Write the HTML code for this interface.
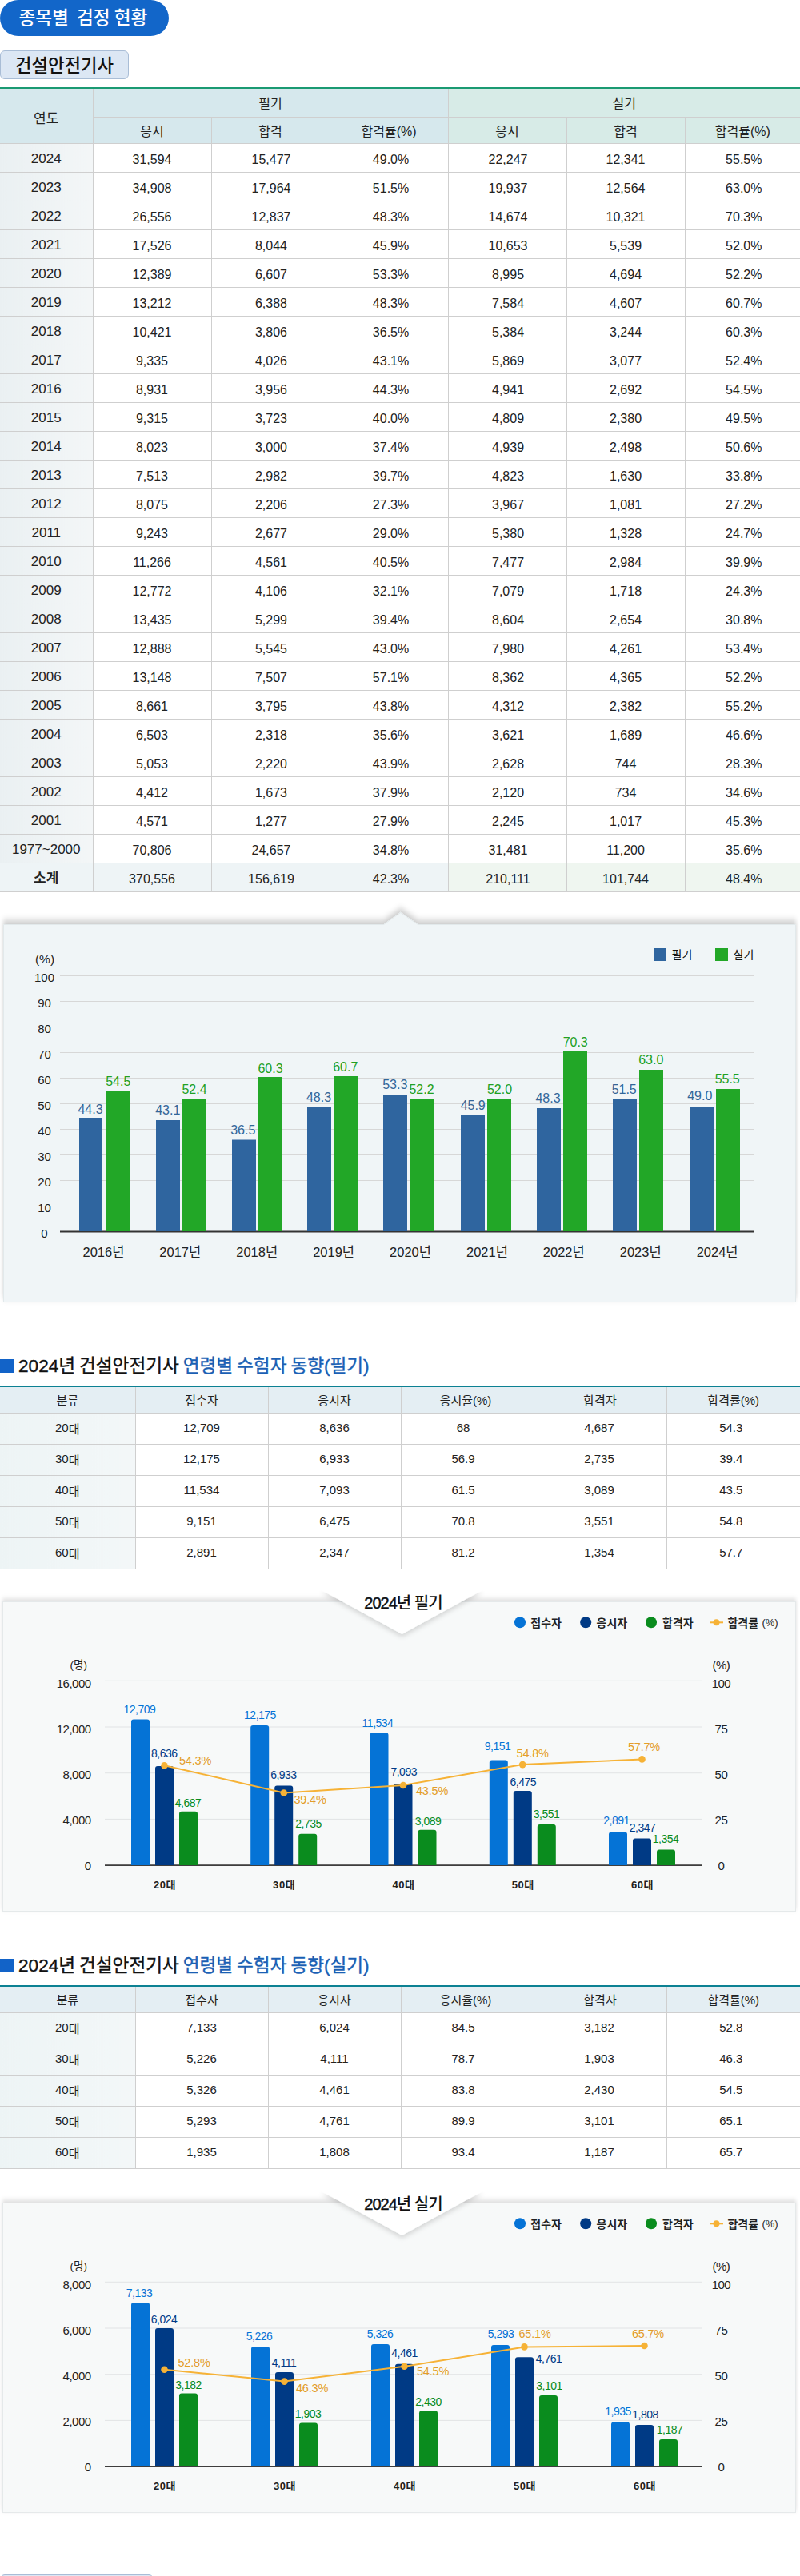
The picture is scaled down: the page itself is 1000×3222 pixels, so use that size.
<!DOCTYPE html><html lang="ko"><head><meta charset="utf-8"><title>종목별 검정 현황</title><style>

*{box-sizing:border-box;margin:0;padding:0}
html,body{width:1000px;background:#fff}
body{position:relative;height:3222px;overflow:hidden;font-family:"Liberation Sans","Noto Sans CJK KR",sans-serif;color:#111;font-size:16px}
.abs{position:absolute}
.pill{position:absolute;left:0;top:0;width:211px;height:45px;border-radius:23px;background:#1266c9;color:#fff;font-size:22.6px;font-weight:500;word-spacing:-1.2px;line-height:45px;padding-left:23.5px;white-space:pre}
.tag{position:absolute;left:0;top:63px;width:161px;height:36px;border:1px solid #a9bdd6;border-radius:6px;background:#dce7f4;font-size:22.3px;font-weight:500;line-height:37px;text-align:center;color:#111}
table{border-collapse:collapse;table-layout:fixed;position:absolute;left:0;width:1000px}
td,th{font-weight:400;text-align:center;vertical-align:middle;border:1px solid #cfcfcf;font-size:16px;color:#222;padding:0;line-height:20px}
#t1{top:109px;border-top:2px solid #1a9a72}
#t1 th{background:#d6e8ed;height:36px;padding-top:3px}
#t1 th[rowspan]{padding-top:9px;font-size:17px}
#t1 tr.h2 th{height:33px;padding-top:4px}
#t1 th.g{background:#d7ebe7}
#t1 td{height:36px;padding-top:5px}
#t1 td:first-child{background:linear-gradient(90deg,#eaf0f2,#f3f6f7);font-size:17px;padding-top:3px}
#t1 td:nth-child(4){padding-left:5px}
#t1 td:nth-child(7){padding-left:3px}
#t1 td:nth-child(3),#t1 td:nth-child(5){padding-left:2px}
#t1 tr.sum td{background:#eef4f6}
#t1 tr.sum td.g{background:#eff6f0}
#t1 tr.sum td:first-child{font-weight:700}
#t1 tr>*:first-child{border-left:0}
#t1 tr>*:last-child{border-right:0}
.t2{border-top:2px solid #0c8193}
.t2 th{background:#e4eef3;height:33px;font-size:15px;padding-top:2px}
.t2 td{height:39px;padding-bottom:1px;font-size:15px}
.t2 td:nth-child(4){padding-right:10px}
.t2 th:nth-child(4){padding-right:4px}
.t2 td:nth-child(6){padding-right:6px}
.t2 td:nth-child(5){padding-right:2px}
.t2 td i{font-style:normal;position:relative;top:1.5px}
.t2 td:first-child{background:linear-gradient(90deg,#edf4f5,#f3f7f8)}
.t2 tr>*:first-child{border-left:0}
.t2 tr>*:last-child{border-right:0}
.h3{position:absolute;left:0;height:30px;font-size:22.6px;font-weight:400;-webkit-text-stroke:0.4px;word-spacing:-1.3px;line-height:30px;padding-left:23px;color:#111;white-space:nowrap}
.h3:before{content:"";position:absolute;left:0;top:6px;width:17px;height:17px;background:#1263c8}
.h3 b{font-weight:400;color:#1a5fb4}
svg{position:absolute;left:0;overflow:visible}
svg text{font-family:"Liberation Sans","Noto Sans CJK KR",sans-serif}

</style></head><body>
<div class="pill">종목별  검정 현황</div>
<div class="tag">건설안전기사</div>
<table id="t1"><colgroup><col style="width:116px"><col style="width:148px"><col style="width:148px"><col style="width:148px"><col style="width:148px"><col style="width:148px"><col style="width:144px"></colgroup>
<tr><th rowspan="2">연도</th><th colspan="3">필기</th><th colspan="3" class="g">실기</th></tr>
<tr class="h2"><th>응시</th><th>합격</th><th>합격률(%)</th><th class="g">응시</th><th class="g">합격</th><th class="g">합격률(%)</th></tr>
<tr><td>2024</td><td>31,594</td><td>15,477</td><td>49.0%</td><td class="g">22,247</td><td class="g">12,341</td><td class="g">55.5%</td></tr>
<tr><td>2023</td><td>34,908</td><td>17,964</td><td>51.5%</td><td class="g">19,937</td><td class="g">12,564</td><td class="g">63.0%</td></tr>
<tr><td>2022</td><td>26,556</td><td>12,837</td><td>48.3%</td><td class="g">14,674</td><td class="g">10,321</td><td class="g">70.3%</td></tr>
<tr><td>2021</td><td>17,526</td><td>8,044</td><td>45.9%</td><td class="g">10,653</td><td class="g">5,539</td><td class="g">52.0%</td></tr>
<tr><td>2020</td><td>12,389</td><td>6,607</td><td>53.3%</td><td class="g">8,995</td><td class="g">4,694</td><td class="g">52.2%</td></tr>
<tr><td>2019</td><td>13,212</td><td>6,388</td><td>48.3%</td><td class="g">7,584</td><td class="g">4,607</td><td class="g">60.7%</td></tr>
<tr><td>2018</td><td>10,421</td><td>3,806</td><td>36.5%</td><td class="g">5,384</td><td class="g">3,244</td><td class="g">60.3%</td></tr>
<tr><td>2017</td><td>9,335</td><td>4,026</td><td>43.1%</td><td class="g">5,869</td><td class="g">3,077</td><td class="g">52.4%</td></tr>
<tr><td>2016</td><td>8,931</td><td>3,956</td><td>44.3%</td><td class="g">4,941</td><td class="g">2,692</td><td class="g">54.5%</td></tr>
<tr><td>2015</td><td>9,315</td><td>3,723</td><td>40.0%</td><td class="g">4,809</td><td class="g">2,380</td><td class="g">49.5%</td></tr>
<tr><td>2014</td><td>8,023</td><td>3,000</td><td>37.4%</td><td class="g">4,939</td><td class="g">2,498</td><td class="g">50.6%</td></tr>
<tr><td>2013</td><td>7,513</td><td>2,982</td><td>39.7%</td><td class="g">4,823</td><td class="g">1,630</td><td class="g">33.8%</td></tr>
<tr><td>2012</td><td>8,075</td><td>2,206</td><td>27.3%</td><td class="g">3,967</td><td class="g">1,081</td><td class="g">27.2%</td></tr>
<tr><td>2011</td><td>9,243</td><td>2,677</td><td>29.0%</td><td class="g">5,380</td><td class="g">1,328</td><td class="g">24.7%</td></tr>
<tr><td>2010</td><td>11,266</td><td>4,561</td><td>40.5%</td><td class="g">7,477</td><td class="g">2,984</td><td class="g">39.9%</td></tr>
<tr><td>2009</td><td>12,772</td><td>4,106</td><td>32.1%</td><td class="g">7,079</td><td class="g">1,718</td><td class="g">24.3%</td></tr>
<tr><td>2008</td><td>13,435</td><td>5,299</td><td>39.4%</td><td class="g">8,604</td><td class="g">2,654</td><td class="g">30.8%</td></tr>
<tr><td>2007</td><td>12,888</td><td>5,545</td><td>43.0%</td><td class="g">7,980</td><td class="g">4,261</td><td class="g">53.4%</td></tr>
<tr><td>2006</td><td>13,148</td><td>7,507</td><td>57.1%</td><td class="g">8,362</td><td class="g">4,365</td><td class="g">52.2%</td></tr>
<tr><td>2005</td><td>8,661</td><td>3,795</td><td>43.8%</td><td class="g">4,312</td><td class="g">2,382</td><td class="g">55.2%</td></tr>
<tr><td>2004</td><td>6,503</td><td>2,318</td><td>35.6%</td><td class="g">3,621</td><td class="g">1,689</td><td class="g">46.6%</td></tr>
<tr><td>2003</td><td>5,053</td><td>2,220</td><td>43.9%</td><td class="g">2,628</td><td class="g">744</td><td class="g">28.3%</td></tr>
<tr><td>2002</td><td>4,412</td><td>1,673</td><td>37.9%</td><td class="g">2,120</td><td class="g">734</td><td class="g">34.6%</td></tr>
<tr><td>2001</td><td>4,571</td><td>1,277</td><td>27.9%</td><td class="g">2,245</td><td class="g">1,017</td><td class="g">45.3%</td></tr>
<tr><td>1977~2000</td><td>70,806</td><td>24,657</td><td>34.8%</td><td class="g">31,481</td><td class="g">11,200</td><td class="g">35.6%</td></tr>
<tr class="sum"><td>소계</td><td>370,556</td><td>156,619</td><td>42.3%</td><td class="g">210,111</td><td class="g">101,744</td><td class="g">48.4%</td></tr>
</table>
<svg style="top:1130px" width="1000" height="510" viewBox="0 1130 1000 510">
<defs><filter id="sh1" x="-5%" y="-10%" width="110%" height="120%"><feDropShadow dx="0" dy="-5" stdDeviation="2.5 4" flood-color="#000" flood-opacity="0.2"/></filter></defs>
<path d="M4.5,1156.5 L479.5,1156.5 L500.8,1141.5 L522.5,1156.5 L994.5,1156.5 L994.5,1628.5 L4.5,1628.5 Z" fill="#f0f5f7" stroke="#e2e9eb" stroke-width="1" filter="url(#sh1)"/>
<rect x="75" y="1220" width="868" height="1" fill="#d7d7d7"/>
<rect x="75" y="1252" width="868" height="1" fill="#d7d7d7"/>
<rect x="75" y="1284" width="868" height="1" fill="#d7d7d7"/>
<rect x="75" y="1316" width="868" height="1" fill="#d7d7d7"/>
<rect x="75" y="1348" width="868" height="1" fill="#d7d7d7"/>
<rect x="75" y="1380" width="868" height="1" fill="#d7d7d7"/>
<rect x="75" y="1412" width="868" height="1" fill="#d7d7d7"/>
<rect x="75" y="1444" width="868" height="1" fill="#d7d7d7"/>
<rect x="75" y="1476" width="868" height="1" fill="#d7d7d7"/>
<rect x="75" y="1508" width="868" height="1" fill="#d7d7d7"/>
<rect x="75" y="1539.5" width="868" height="2" fill="#333"/>
<text x="55.5" y="1227.5" font-size="15" fill="#222" text-anchor="middle">100</text>
<text x="55.5" y="1259.5" font-size="15" fill="#222" text-anchor="middle">90</text>
<text x="55.5" y="1291.5" font-size="15" fill="#222" text-anchor="middle">80</text>
<text x="55.5" y="1323.5" font-size="15" fill="#222" text-anchor="middle">70</text>
<text x="55.5" y="1355.5" font-size="15" fill="#222" text-anchor="middle">60</text>
<text x="55.5" y="1387.5" font-size="15" fill="#222" text-anchor="middle">50</text>
<text x="55.5" y="1419.5" font-size="15" fill="#222" text-anchor="middle">40</text>
<text x="55.5" y="1451.5" font-size="15" fill="#222" text-anchor="middle">30</text>
<text x="55.5" y="1483.5" font-size="15" fill="#222" text-anchor="middle">20</text>
<text x="55.5" y="1515.5" font-size="15" fill="#222" text-anchor="middle">10</text>
<text x="55.5" y="1547.5" font-size="15" fill="#222" text-anchor="middle">0</text>
<text x="56.0" y="1204.5" font-size="15.5" fill="#222" text-anchor="middle">(%)</text>
<rect x="817" y="1186" width="16" height="16" fill="#2f659f"/>
<text x="839.5" y="1199.0" font-size="14" fill="#111" text-anchor="start">필기</text>
<rect x="894" y="1186" width="16" height="16" fill="#22a727"/>
<text x="916.5" y="1199.0" font-size="14" fill="#111" text-anchor="start">실기</text>
<rect x="99.0" y="1398.0" width="29.0" height="142.0" fill="#2f659f"/>
<rect x="133.0" y="1364.0" width="29.0" height="176.0" fill="#22a727"/>
<text x="113.0" y="1392.5" font-size="16" fill="#336699" text-anchor="middle">44.3</text>
<text x="147.8" y="1357.5" font-size="16" fill="#22a022" text-anchor="middle">54.5</text>
<text x="129.4" y="1571.7" font-size="16.5" fill="#222" text-anchor="middle">2016년</text>
<rect x="195.0" y="1401.0" width="30.0" height="139.0" fill="#2f659f"/>
<rect x="228.0" y="1374.0" width="30.0" height="166.0" fill="#22a727"/>
<text x="209.8" y="1394.0" font-size="16" fill="#336699" text-anchor="middle">43.1</text>
<text x="243.0" y="1367.5" font-size="16" fill="#22a022" text-anchor="middle">52.4</text>
<text x="225.3" y="1571.7" font-size="16.5" fill="#222" text-anchor="middle">2017년</text>
<rect x="290.0" y="1425.5" width="30.0" height="114.5" fill="#2f659f"/>
<rect x="323.0" y="1347.0" width="30.0" height="193.0" fill="#22a727"/>
<text x="303.8" y="1418.8" font-size="16" fill="#336699" text-anchor="middle">36.5</text>
<text x="338.0" y="1341.5" font-size="16" fill="#22a022" text-anchor="middle">60.3</text>
<text x="321.2" y="1571.7" font-size="16.5" fill="#222" text-anchor="middle">2018년</text>
<rect x="384.0" y="1385.0" width="30.0" height="155.0" fill="#2f659f"/>
<rect x="417.0" y="1346.0" width="30.0" height="194.0" fill="#22a727"/>
<text x="398.5" y="1378.0" font-size="16" fill="#336699" text-anchor="middle">48.3</text>
<text x="431.8" y="1340.0" font-size="16" fill="#22a022" text-anchor="middle">60.7</text>
<text x="417.1" y="1571.7" font-size="16.5" fill="#222" text-anchor="middle">2019년</text>
<rect x="479.0" y="1369.0" width="30.0" height="171.0" fill="#2f659f"/>
<rect x="512.0" y="1374.0" width="30.0" height="166.0" fill="#22a727"/>
<text x="493.8" y="1361.8" font-size="16" fill="#336699" text-anchor="middle">53.3</text>
<text x="527.0" y="1368.0" font-size="16" fill="#22a022" text-anchor="middle">52.2</text>
<text x="513.0" y="1571.7" font-size="16.5" fill="#222" text-anchor="middle">2020년</text>
<rect x="576.0" y="1394.0" width="30.0" height="146.0" fill="#2f659f"/>
<rect x="609.0" y="1374.0" width="30.0" height="166.0" fill="#22a727"/>
<text x="591.2" y="1388.0" font-size="16" fill="#336699" text-anchor="middle">45.9</text>
<text x="624.5" y="1368.0" font-size="16" fill="#22a022" text-anchor="middle">52.0</text>
<text x="608.9" y="1571.7" font-size="16.5" fill="#222" text-anchor="middle">2021년</text>
<rect x="671.0" y="1386.0" width="30.0" height="154.0" fill="#2f659f"/>
<rect x="704.0" y="1315.0" width="30.0" height="225.0" fill="#22a727"/>
<text x="685.0" y="1379.2" font-size="16" fill="#336699" text-anchor="middle">48.3</text>
<text x="719.2" y="1308.5" font-size="16" fill="#22a022" text-anchor="middle">70.3</text>
<text x="704.8" y="1571.7" font-size="16.5" fill="#222" text-anchor="middle">2022년</text>
<rect x="766.0" y="1375.0" width="30.0" height="165.0" fill="#2f659f"/>
<rect x="799.0" y="1338.0" width="30.0" height="202.0" fill="#22a727"/>
<text x="780.2" y="1367.5" font-size="16" fill="#336699" text-anchor="middle">51.5</text>
<text x="813.8" y="1331.2" font-size="16" fill="#22a022" text-anchor="middle">63.0</text>
<text x="800.7" y="1571.7" font-size="16.5" fill="#222" text-anchor="middle">2023년</text>
<rect x="862.0" y="1384.0" width="30.0" height="156.0" fill="#2f659f"/>
<rect x="895.0" y="1362.0" width="30.0" height="178.0" fill="#22a727"/>
<text x="874.8" y="1376.2" font-size="16" fill="#336699" text-anchor="middle">49.0</text>
<text x="909.2" y="1355.0" font-size="16" fill="#22a022" text-anchor="middle">55.5</text>
<text x="896.6" y="1571.7" font-size="16.5" fill="#222" text-anchor="middle">2024년</text>
</svg>
<div class="h3" style="top:1694px">2024년 건설안전기사 <b>연령별 수험자 동향(필기)</b></div>
<table class="t2" style="top:1733px"><colgroup><col style="width:169px"><col style="width:166px"><col style="width:166px"><col style="width:166px"><col style="width:166px"><col style="width:167px"></colgroup>
<tr><th>분류</th><th>접수자</th><th>응시자</th><th>응시율(%)</th><th>합격자</th><th>합격률(%)</th></tr>
<tr><td>20<i>대</i></td><td>12,709</td><td>8,636</td><td>68</td><td>4,687</td><td>54.3</td></tr>
<tr><td>30<i>대</i></td><td>12,175</td><td>6,933</td><td>56.9</td><td>2,735</td><td>39.4</td></tr>
<tr><td>40<i>대</i></td><td>11,534</td><td>7,093</td><td>61.5</td><td>3,089</td><td>43.5</td></tr>
<tr><td>50<i>대</i></td><td>9,151</td><td>6,475</td><td>70.8</td><td>3,551</td><td>54.8</td></tr>
<tr><td>60<i>대</i></td><td>2,891</td><td>2,347</td><td>81.2</td><td>1,354</td><td>57.7</td></tr>
</table>
<svg style="top:1985px" width="1000" height="420" viewBox="0 1985 1000 420">
<defs><filter id="f2" x="-5%" y="-10%" width="110%" height="120%"><feDropShadow dx="0" dy="-3" stdDeviation="2 3" flood-color="#000" flood-opacity="0.14"/></filter>
<filter id="f2t" x="-10%" y="-20%" width="120%" height="150%"><feDropShadow dx="0" dy="3" stdDeviation="3" flood-color="#000" flood-opacity="0.16"/></filter></defs>
<rect x="3.5" y="2003.5" width="991" height="387" fill="#f7f9f9" stroke="#e5e9ea" filter="url(#f2)"/>
<path d="M402,1989 L603,1989 L502.5,2044 Z" fill="#fff" filter="url(#f2t)"/>
<rect x="380" y="1975" width="245" height="14.5" fill="#fff"/>
<text x="504.0" y="2011.5" font-size="20" fill="#111" text-anchor="middle" font-weight="500" letter-spacing="-1"><tspan stroke="#111" stroke-width="0.45">2024</tspan>년 필기</text>
<circle cx="650.0" cy="2029.3" r="7" fill="#0573d6"/>
<text x="663.3" y="2034.5" font-size="14" fill="#222" text-anchor="start" font-weight="700" font-family="Liberation Sans,NanumGothic,sans-serif">접수자</text>
<circle cx="732.2" cy="2029.3" r="7" fill="#003a85"/>
<text x="745.6" y="2034.5" font-size="14" fill="#222" text-anchor="start" font-weight="700" font-family="Liberation Sans,NanumGothic,sans-serif">응시자</text>
<circle cx="814.0" cy="2029.3" r="7" fill="#0a8c1e"/>
<text x="828.0" y="2034.5" font-size="14" fill="#222" text-anchor="start" font-weight="700" font-family="Liberation Sans,NanumGothic,sans-serif">합격자</text>
<rect x="887" y="2028.3" width="17" height="2" fill="#f6b236"/><circle cx="895.5" cy="2029.3" r="4" fill="#f6b236"/>
<text x="909.4" y="2034.5" font-size="14" fill="#222" text-anchor="start" font-weight="700" font-family="Liberation Sans,NanumGothic,sans-serif">합격률</text>
<text x="952.4" y="2034.0" font-size="13" fill="#222" text-anchor="start" font-family="Liberation Sans,NanumGothic,sans-serif">(%)</text>
<rect x="131" y="2101.8" width="746" height="1" fill="#e1e4e5"/>
<rect x="131" y="2159.5" width="746" height="1" fill="#e1e4e5"/>
<rect x="131" y="2217.2" width="746" height="1" fill="#e1e4e5"/>
<rect x="131" y="2274.9" width="746" height="1" fill="#e1e4e5"/>
<rect x="131" y="2332.3" width="746" height="1.6" fill="#2a2a2a"/>
<text x="113.6" y="2110.6" font-size="15" fill="#222" text-anchor="end" letter-spacing="-0.5">16,000</text>
<text x="113.6" y="2167.6" font-size="15" fill="#222" text-anchor="end" letter-spacing="-0.5">12,000</text>
<text x="113.6" y="2224.6" font-size="15" fill="#222" text-anchor="end" letter-spacing="-0.5">8,000</text>
<text x="113.6" y="2281.6" font-size="15" fill="#222" text-anchor="end" letter-spacing="-0.5">4,000</text>
<text x="113.6" y="2338.6" font-size="15" fill="#222" text-anchor="end" letter-spacing="-0.5">0</text>
<text x="901.4" y="2110.6" font-size="15" fill="#222" text-anchor="middle" letter-spacing="-0.5">100</text>
<text x="901.4" y="2167.6" font-size="15" fill="#222" text-anchor="middle" letter-spacing="-0.5">75</text>
<text x="901.4" y="2224.6" font-size="15" fill="#222" text-anchor="middle" letter-spacing="-0.5">50</text>
<text x="901.4" y="2281.6" font-size="15" fill="#222" text-anchor="middle" letter-spacing="-0.5">25</text>
<text x="901.4" y="2338.6" font-size="15" fill="#222" text-anchor="middle" letter-spacing="-0.5">0</text>
<text x="98.3" y="2087.0" font-size="13.5" fill="#222" text-anchor="middle">(명)</text>
<text x="901.4" y="2087.5" font-size="15" fill="#222" text-anchor="middle" letter-spacing="-0.5">(%)</text>
<path d="M164.0,2333.1 v-179.7 a3,3 0 0 1 3,-3 h17 a3,3 0 0 1 3,3 v179.7 z" fill="#0573d6"/>
<path d="M194.0,2333.1 v-121.1 a3,3 0 0 1 3,-3 h17 a3,3 0 0 1 3,3 v121.1 z" fill="#003a85"/>
<path d="M224.0,2333.1 v-64.4 a3,3 0 0 1 3,-3 h17 a3,3 0 0 1 3,3 v64.4 z" fill="#0a8c1e"/>
<text x="206.0" y="2361.5" font-size="13" fill="#222" text-anchor="middle" font-weight="700" font-family="Liberation Sans,NanumGothic,sans-serif" letter-spacing="0.6">20대</text>
<path d="M313.2,2333.1 v-172.0 a3,3 0 0 1 3,-3 h17 a3,3 0 0 1 3,3 v172.0 z" fill="#0573d6"/>
<path d="M343.2,2333.1 v-96.7 a3,3 0 0 1 3,-3 h17 a3,3 0 0 1 3,3 v96.7 z" fill="#003a85"/>
<path d="M373.2,2333.1 v-36.3 a3,3 0 0 1 3,-3 h17 a3,3 0 0 1 3,3 v36.3 z" fill="#0a8c1e"/>
<text x="355.2" y="2361.5" font-size="13" fill="#222" text-anchor="middle" font-weight="700" font-family="Liberation Sans,NanumGothic,sans-serif" letter-spacing="0.6">30대</text>
<path d="M462.5,2333.1 v-162.8 a3,3 0 0 1 3,-3 h17 a3,3 0 0 1 3,3 v162.8 z" fill="#0573d6"/>
<path d="M492.5,2333.1 v-99.0 a3,3 0 0 1 3,-3 h17 a3,3 0 0 1 3,3 v99.0 z" fill="#003a85"/>
<path d="M522.5,2333.1 v-41.4 a3,3 0 0 1 3,-3 h17 a3,3 0 0 1 3,3 v41.4 z" fill="#0a8c1e"/>
<text x="504.5" y="2361.5" font-size="13" fill="#222" text-anchor="middle" font-weight="700" font-family="Liberation Sans,NanumGothic,sans-serif" letter-spacing="0.6">40대</text>
<path d="M611.8,2333.1 v-128.5 a3,3 0 0 1 3,-3 h17 a3,3 0 0 1 3,3 v128.5 z" fill="#0573d6"/>
<path d="M641.8,2333.1 v-90.1 a3,3 0 0 1 3,-3 h17 a3,3 0 0 1 3,3 v90.1 z" fill="#003a85"/>
<path d="M671.8,2333.1 v-48.0 a3,3 0 0 1 3,-3 h17 a3,3 0 0 1 3,3 v48.0 z" fill="#0a8c1e"/>
<text x="653.8" y="2361.5" font-size="13" fill="#222" text-anchor="middle" font-weight="700" font-family="Liberation Sans,NanumGothic,sans-serif" letter-spacing="0.6">50대</text>
<path d="M761.0,2333.1 v-38.6 a3,3 0 0 1 3,-3 h17 a3,3 0 0 1 3,3 v38.6 z" fill="#0573d6"/>
<path d="M791.0,2333.1 v-30.7 a3,3 0 0 1 3,-3 h17 a3,3 0 0 1 3,3 v30.7 z" fill="#003a85"/>
<path d="M821.0,2333.1 v-16.5 a3,3 0 0 1 3,-3 h17 a3,3 0 0 1 3,3 v16.5 z" fill="#0a8c1e"/>
<text x="803.0" y="2361.5" font-size="13" fill="#222" text-anchor="middle" font-weight="700" font-family="Liberation Sans,NanumGothic,sans-serif" letter-spacing="0.6">60대</text>
<polyline fill="none" stroke="#f6b236" stroke-width="2" points="205.5,2208.2 354.8,2242.5 504.0,2233.0 653.2,2207.1 802.5,2200.4"/>
<circle cx="205.5" cy="2208.2" r="4.3" fill="#f6b236"/>
<circle cx="354.8" cy="2242.5" r="4.3" fill="#f6b236"/>
<circle cx="504.0" cy="2233.0" r="4.3" fill="#f6b236"/>
<circle cx="653.2" cy="2207.1" r="4.3" fill="#f6b236"/>
<circle cx="802.5" cy="2200.4" r="4.3" fill="#f6b236"/>
<text x="174.4" y="2143.3" font-size="14" fill="#0573d6" text-anchor="middle" letter-spacing="-0.5">12,709</text>
<text x="205.3" y="2197.9" font-size="14" fill="#003a85" text-anchor="middle" letter-spacing="-0.5">8,636</text>
<text x="224.0" y="2207.3" font-size="14.5" fill="#e39d2b" text-anchor="start" letter-spacing="-0.2">54.3%</text>
<text x="235.0" y="2260.3" font-size="14" fill="#0a8c1e" text-anchor="middle" letter-spacing="-0.5">4,687</text>
<text x="325.0" y="2149.7" font-size="14" fill="#0573d6" text-anchor="middle" letter-spacing="-0.5">12,175</text>
<text x="354.4" y="2224.7" font-size="14" fill="#003a85" text-anchor="middle" letter-spacing="-0.5">6,933</text>
<text x="367.5" y="2255.9" font-size="14.5" fill="#e39d2b" text-anchor="start" letter-spacing="-0.2">39.4%</text>
<text x="385.6" y="2286.3" font-size="14" fill="#0a8c1e" text-anchor="middle" letter-spacing="-0.5">2,735</text>
<text x="472.0" y="2160.3" font-size="14" fill="#0573d6" text-anchor="middle" letter-spacing="-0.5">11,534</text>
<text x="504.7" y="2221.3" font-size="14" fill="#003a85" text-anchor="middle" letter-spacing="-0.5">7,093</text>
<text x="520.0" y="2245.3" font-size="14.5" fill="#e39d2b" text-anchor="start" letter-spacing="-0.2">43.5%</text>
<text x="535.0" y="2283.3" font-size="14" fill="#0a8c1e" text-anchor="middle" letter-spacing="-0.5">3,089</text>
<text x="622.0" y="2189.1" font-size="14" fill="#0573d6" text-anchor="middle" letter-spacing="-0.5">9,151</text>
<text x="645.6" y="2197.8" font-size="14.5" fill="#e39d2b" text-anchor="start" letter-spacing="-0.2">54.8%</text>
<text x="653.8" y="2234.1" font-size="14" fill="#003a85" text-anchor="middle" letter-spacing="-0.5">6,475</text>
<text x="683.0" y="2274.1" font-size="14" fill="#0a8c1e" text-anchor="middle" letter-spacing="-0.5">3,551</text>
<text x="770.6" y="2282.3" font-size="14" fill="#0573d6" text-anchor="middle" letter-spacing="-0.5">2,891</text>
<text x="803.0" y="2291.3" font-size="14" fill="#003a85" text-anchor="middle" letter-spacing="-0.5">2,347</text>
<text x="832.0" y="2305.3" font-size="14" fill="#0a8c1e" text-anchor="middle" letter-spacing="-0.5">1,354</text>
<text x="805.0" y="2190.3" font-size="14.5" fill="#e39d2b" text-anchor="middle" letter-spacing="-0.2">57.7%</text>
</svg>
<div class="h3" style="top:2444px">2024년 건설안전기사 <b>연령별 수험자 동향(실기)</b></div>
<table class="t2" style="top:2483px"><colgroup><col style="width:169px"><col style="width:166px"><col style="width:166px"><col style="width:166px"><col style="width:166px"><col style="width:167px"></colgroup>
<tr><th>분류</th><th>접수자</th><th>응시자</th><th>응시율(%)</th><th>합격자</th><th>합격률(%)</th></tr>
<tr><td>20<i>대</i></td><td>7,133</td><td>6,024</td><td>84.5</td><td>3,182</td><td>52.8</td></tr>
<tr><td>30<i>대</i></td><td>5,226</td><td>4,111</td><td>78.7</td><td>1,903</td><td>46.3</td></tr>
<tr><td>40<i>대</i></td><td>5,326</td><td>4,461</td><td>83.8</td><td>2,430</td><td>54.5</td></tr>
<tr><td>50<i>대</i></td><td>5,293</td><td>4,761</td><td>89.9</td><td>3,101</td><td>65.1</td></tr>
<tr><td>60<i>대</i></td><td>1,935</td><td>1,808</td><td>93.4</td><td>1,187</td><td>65.7</td></tr>
</table>
<svg style="top:2737px" width="1000" height="420" viewBox="0 1985 1000 420">
<defs><filter id="f3" x="-5%" y="-10%" width="110%" height="120%"><feDropShadow dx="0" dy="-3" stdDeviation="2 3" flood-color="#000" flood-opacity="0.14"/></filter>
<filter id="f3t" x="-10%" y="-20%" width="120%" height="150%"><feDropShadow dx="0" dy="3" stdDeviation="3" flood-color="#000" flood-opacity="0.16"/></filter></defs>
<rect x="3.5" y="2003.5" width="991" height="387" fill="#f7f9f9" stroke="#e5e9ea" filter="url(#f3)"/>
<path d="M402,1989 L603,1989 L502.5,2044 Z" fill="#fff" filter="url(#f3t)"/>
<rect x="380" y="1975" width="245" height="14.5" fill="#fff"/>
<text x="504.0" y="2011.5" font-size="20" fill="#111" text-anchor="middle" font-weight="500" letter-spacing="-1"><tspan stroke="#111" stroke-width="0.45">2024</tspan>년 실기</text>
<circle cx="650.0" cy="2029.3" r="7" fill="#0573d6"/>
<text x="663.3" y="2034.5" font-size="14" fill="#222" text-anchor="start" font-weight="700" font-family="Liberation Sans,NanumGothic,sans-serif">접수자</text>
<circle cx="732.2" cy="2029.3" r="7" fill="#003a85"/>
<text x="745.6" y="2034.5" font-size="14" fill="#222" text-anchor="start" font-weight="700" font-family="Liberation Sans,NanumGothic,sans-serif">응시자</text>
<circle cx="814.0" cy="2029.3" r="7" fill="#0a8c1e"/>
<text x="828.0" y="2034.5" font-size="14" fill="#222" text-anchor="start" font-weight="700" font-family="Liberation Sans,NanumGothic,sans-serif">합격자</text>
<rect x="887" y="2028.3" width="17" height="2" fill="#f6b236"/><circle cx="895.5" cy="2029.3" r="4" fill="#f6b236"/>
<text x="909.4" y="2034.5" font-size="14" fill="#222" text-anchor="start" font-weight="700" font-family="Liberation Sans,NanumGothic,sans-serif">합격률</text>
<text x="952.4" y="2034.0" font-size="13" fill="#222" text-anchor="start" font-family="Liberation Sans,NanumGothic,sans-serif">(%)</text>
<rect x="131" y="2101.8" width="746" height="1" fill="#e1e4e5"/>
<rect x="131" y="2159.5" width="746" height="1" fill="#e1e4e5"/>
<rect x="131" y="2217.2" width="746" height="1" fill="#e1e4e5"/>
<rect x="131" y="2274.9" width="746" height="1" fill="#e1e4e5"/>
<rect x="131" y="2332.3" width="746" height="1.6" fill="#2a2a2a"/>
<text x="113.6" y="2110.6" font-size="15" fill="#222" text-anchor="end" letter-spacing="-0.5">8,000</text>
<text x="113.6" y="2167.6" font-size="15" fill="#222" text-anchor="end" letter-spacing="-0.5">6,000</text>
<text x="113.6" y="2224.6" font-size="15" fill="#222" text-anchor="end" letter-spacing="-0.5">4,000</text>
<text x="113.6" y="2281.6" font-size="15" fill="#222" text-anchor="end" letter-spacing="-0.5">2,000</text>
<text x="113.6" y="2338.6" font-size="15" fill="#222" text-anchor="end" letter-spacing="-0.5">0</text>
<text x="901.4" y="2110.6" font-size="15" fill="#222" text-anchor="middle" letter-spacing="-0.5">100</text>
<text x="901.4" y="2167.6" font-size="15" fill="#222" text-anchor="middle" letter-spacing="-0.5">75</text>
<text x="901.4" y="2224.6" font-size="15" fill="#222" text-anchor="middle" letter-spacing="-0.5">50</text>
<text x="901.4" y="2281.6" font-size="15" fill="#222" text-anchor="middle" letter-spacing="-0.5">25</text>
<text x="901.4" y="2338.6" font-size="15" fill="#222" text-anchor="middle" letter-spacing="-0.5">0</text>
<text x="98.3" y="2087.0" font-size="13.5" fill="#222" text-anchor="middle">(명)</text>
<text x="901.4" y="2087.5" font-size="15" fill="#222" text-anchor="middle" letter-spacing="-0.5">(%)</text>
<path d="M164.0,2333.1 v-202.1 a3,3 0 0 1 3,-3 h17 a3,3 0 0 1 3,3 v202.1 z" fill="#0573d6"/>
<path d="M194.0,2333.1 v-170.2 a3,3 0 0 1 3,-3 h17 a3,3 0 0 1 3,3 v170.2 z" fill="#003a85"/>
<path d="M224.0,2333.1 v-88.5 a3,3 0 0 1 3,-3 h17 a3,3 0 0 1 3,3 v88.5 z" fill="#0a8c1e"/>
<text x="206.0" y="2361.5" font-size="13" fill="#222" text-anchor="middle" font-weight="700" font-family="Liberation Sans,NanumGothic,sans-serif" letter-spacing="0.6">20대</text>
<path d="M314.0,2333.1 v-147.2 a3,3 0 0 1 3,-3 h17 a3,3 0 0 1 3,3 v147.2 z" fill="#0573d6"/>
<path d="M344.0,2333.1 v-115.2 a3,3 0 0 1 3,-3 h17 a3,3 0 0 1 3,3 v115.2 z" fill="#003a85"/>
<path d="M374.0,2333.1 v-51.7 a3,3 0 0 1 3,-3 h17 a3,3 0 0 1 3,3 v51.7 z" fill="#0a8c1e"/>
<text x="356.0" y="2361.5" font-size="13" fill="#222" text-anchor="middle" font-weight="700" font-family="Liberation Sans,NanumGothic,sans-serif" letter-spacing="0.6">30대</text>
<path d="M464.0,2333.1 v-150.1 a3,3 0 0 1 3,-3 h17 a3,3 0 0 1 3,3 v150.1 z" fill="#0573d6"/>
<path d="M494.0,2333.1 v-125.3 a3,3 0 0 1 3,-3 h17 a3,3 0 0 1 3,3 v125.3 z" fill="#003a85"/>
<path d="M524.0,2333.1 v-66.9 a3,3 0 0 1 3,-3 h17 a3,3 0 0 1 3,3 v66.9 z" fill="#0a8c1e"/>
<text x="506.0" y="2361.5" font-size="13" fill="#222" text-anchor="middle" font-weight="700" font-family="Liberation Sans,NanumGothic,sans-serif" letter-spacing="0.6">40대</text>
<path d="M614.0,2333.1 v-149.2 a3,3 0 0 1 3,-3 h17 a3,3 0 0 1 3,3 v149.2 z" fill="#0573d6"/>
<path d="M644.0,2333.1 v-133.9 a3,3 0 0 1 3,-3 h17 a3,3 0 0 1 3,3 v133.9 z" fill="#003a85"/>
<path d="M674.0,2333.1 v-86.2 a3,3 0 0 1 3,-3 h17 a3,3 0 0 1 3,3 v86.2 z" fill="#0a8c1e"/>
<text x="656.0" y="2361.5" font-size="13" fill="#222" text-anchor="middle" font-weight="700" font-family="Liberation Sans,NanumGothic,sans-serif" letter-spacing="0.6">50대</text>
<path d="M764.0,2333.1 v-52.6 a3,3 0 0 1 3,-3 h17 a3,3 0 0 1 3,3 v52.6 z" fill="#0573d6"/>
<path d="M794.0,2333.1 v-49.0 a3,3 0 0 1 3,-3 h17 a3,3 0 0 1 3,3 v49.0 z" fill="#003a85"/>
<path d="M824.0,2333.1 v-31.1 a3,3 0 0 1 3,-3 h17 a3,3 0 0 1 3,3 v31.1 z" fill="#0a8c1e"/>
<text x="806.0" y="2361.5" font-size="13" fill="#222" text-anchor="middle" font-weight="700" font-family="Liberation Sans,NanumGothic,sans-serif" letter-spacing="0.6">60대</text>
<polyline fill="none" stroke="#f6b236" stroke-width="2" points="205.5,2211.7 355.5,2226.6 505.5,2207.8 655.5,2183.4 805.5,2182.0"/>
<circle cx="205.5" cy="2211.7" r="4.3" fill="#f6b236"/>
<circle cx="355.5" cy="2226.6" r="4.3" fill="#f6b236"/>
<circle cx="505.5" cy="2207.8" r="4.3" fill="#f6b236"/>
<circle cx="655.5" cy="2183.4" r="4.3" fill="#f6b236"/>
<circle cx="805.5" cy="2182.0" r="4.3" fill="#f6b236"/>
<text x="174.0" y="2120.8" font-size="14" fill="#0573d6" text-anchor="middle" letter-spacing="-0.5">7,133</text>
<text x="205.0" y="2154.3" font-size="14" fill="#003a85" text-anchor="middle" letter-spacing="-0.5">6,024</text>
<text x="222.5" y="2207.8" font-size="14.5" fill="#e39d2b" text-anchor="start" letter-spacing="-0.2">52.8%</text>
<text x="235.5" y="2236.3" font-size="14" fill="#0a8c1e" text-anchor="middle" letter-spacing="-0.5">3,182</text>
<text x="324.0" y="2174.8" font-size="14" fill="#0573d6" text-anchor="middle" letter-spacing="-0.5">5,226</text>
<text x="355.0" y="2208.3" font-size="14" fill="#003a85" text-anchor="middle" letter-spacing="-0.5">4,111</text>
<text x="370.0" y="2239.8" font-size="14.5" fill="#e39d2b" text-anchor="start" letter-spacing="-0.2">46.3%</text>
<text x="385.0" y="2272.3" font-size="14" fill="#0a8c1e" text-anchor="middle" letter-spacing="-0.5">1,903</text>
<text x="475.0" y="2172.3" font-size="14" fill="#0573d6" text-anchor="middle" letter-spacing="-0.5">5,326</text>
<text x="505.5" y="2195.8" font-size="14" fill="#003a85" text-anchor="middle" letter-spacing="-0.5">4,461</text>
<text x="521.0" y="2219.3" font-size="14.5" fill="#e39d2b" text-anchor="start" letter-spacing="-0.2">54.5%</text>
<text x="535.5" y="2256.8" font-size="14" fill="#0a8c1e" text-anchor="middle" letter-spacing="-0.5">2,430</text>
<text x="626.0" y="2171.8" font-size="14" fill="#0573d6" text-anchor="middle" letter-spacing="-0.5">5,293</text>
<text x="648.5" y="2172.3" font-size="14.5" fill="#e39d2b" text-anchor="start" letter-spacing="-0.2">65.1%</text>
<text x="686.0" y="2203.3" font-size="14" fill="#003a85" text-anchor="middle" letter-spacing="-0.5">4,761</text>
<text x="686.5" y="2236.8" font-size="14" fill="#0a8c1e" text-anchor="middle" letter-spacing="-0.5">3,101</text>
<text x="772.5" y="2269.3" font-size="14" fill="#0573d6" text-anchor="middle" letter-spacing="-0.5">1,935</text>
<text x="806.5" y="2273.3" font-size="14" fill="#003a85" text-anchor="middle" letter-spacing="-0.5">1,808</text>
<text x="837.0" y="2291.8" font-size="14" fill="#0a8c1e" text-anchor="middle" letter-spacing="-0.5">1,187</text>
<text x="810.0" y="2172.3" font-size="14.5" fill="#e39d2b" text-anchor="middle" letter-spacing="-0.2">65.7%</text>
</svg>
<div class="tag" style="top:3220px;width:192px"></div>
</body></html>
